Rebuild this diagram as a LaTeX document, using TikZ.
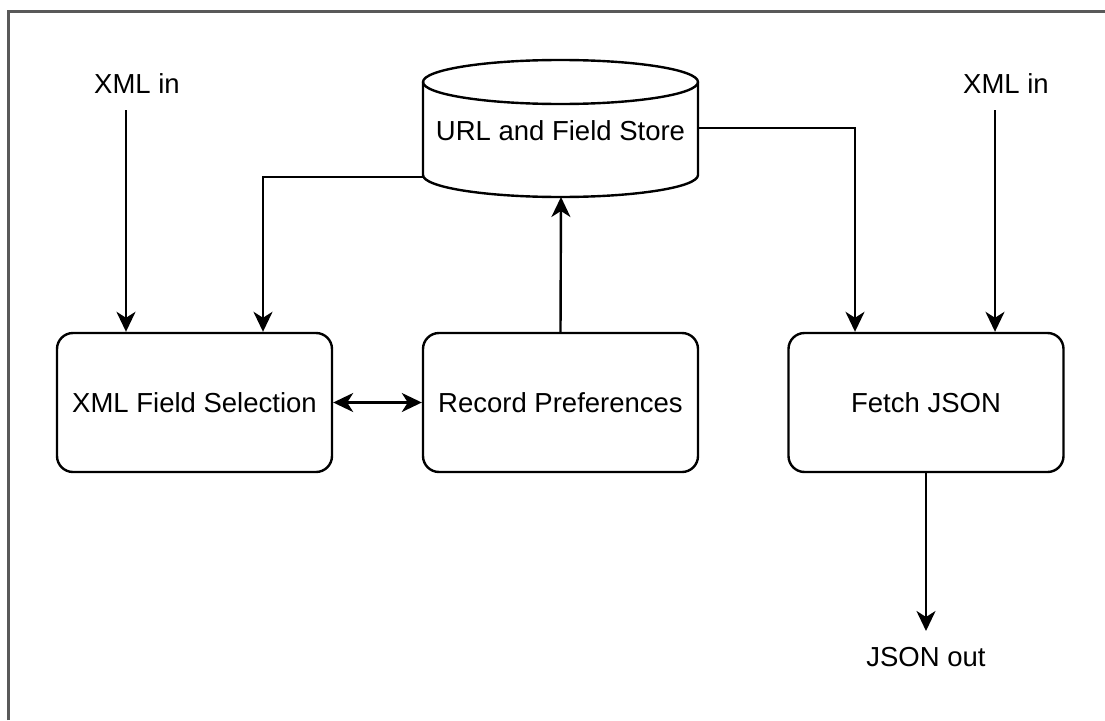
\documentclass[tikz,border=0pt]{standalone}
\usepackage{fontspec}
\setmainfont{Liberation Sans}
\usetikzlibrary{arrows.meta}
\begin{document}
\begin{tikzpicture}[x=1pt,y=-1pt,
  every node/.style={font=\fontsize{27.5}{33}\selectfont, text=black},
  box/.style={draw, line width=2.4pt, rounded corners=16pt, minimum width=275pt, minimum height=139pt, inner sep=0pt},
  lbl/.style={inner sep=0pt},
  tip/.tip={Stealth[length=20pt,width=19pt,inset=6pt]},
  conn/.style={line width=2.4pt, -tip},
  dconn/.style={line width=2.4pt, tip-tip},
  frame/.style={draw=black!65, line width=3pt}
]
\useasboundingbox (0,0) rectangle (1105,720);
% frame (left and top edges)
\draw[frame] (8.5,720) -- (8.5,11.5) -- (1105,11.5);

% boxes
\node[box] (xfs) at (194.5,402.5) {XML Field Selection};
\node[box] (rp) at (560.5,402.5) {Record Preferences};
\node[box] (fj) at (926,402.5) {Fetch JSON};

% cylinder
\draw[line width=2.4pt, fill=white] (423,82) -- (423,175)
  arc[start angle=180, end angle=0, x radius=137.5, y radius=22] -- (698,82)
  arc[start angle=0, end angle=-180, x radius=137.5, y radius=22] -- cycle;
\draw[line width=2.4pt] (423,82) arc[start angle=180, end angle=0, x radius=137.5, y radius=22];
\node[lbl] (store) at (560.5,131) {URL and Field Store};
\coordinate (storeL) at (423,177);
\coordinate (storeR) at (698,128);
\coordinate (storeB) at (561,197);

% labels
\node[lbl] (xin1) at (137,84) {XML in};
\node[lbl] (xin2) at (1006,84) {XML in};
\node[lbl] (jout) at (926,657) {JSON out};

\coordinate (x1s) at (126,110);
\coordinate (x2s) at (995,110);

% connectors
\draw[conn] (x1s) -- (x1s |- xfs.north);
\draw[conn] (x2s) -- (x2s |- fj.north);
\draw[conn] (storeL) -| (263,0 |- xfs.north);
\draw[conn] (storeR) -| (855,0 |- fj.north);
\draw[conn] (rp.north) -- (storeB);
\draw[dconn] (xfs.east) -- (rp.west);
\draw[conn] (fj.south) -- (926,631);
\end{tikzpicture}
\end{document}
